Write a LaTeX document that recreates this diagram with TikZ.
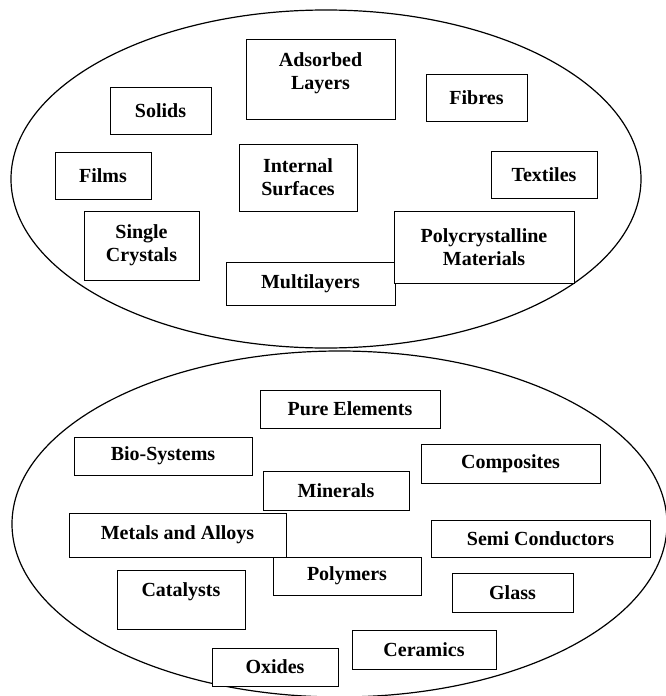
\documentclass[tikz,border=0pt]{standalone}
\usepackage{fontspec}
\setmainfont{Liberation Serif}
\usetikzlibrary{shapes.geometric}

\tikzset{
  blob/.style={draw, ellipse, line width=1.2pt, inner sep=0pt},
  box/.style={draw, line width=0.9pt, inner sep=0pt, align=center,
    font=\bfseries\fontsize{20}{23}\selectfont, fill=white}
}

\begin{document}
\begin{tikzpicture}[x=1pt, y=-1pt]
			%%%%% START %%%%%
			\useasboundingbox (0,0) rectangle (666,696);
			
			% upper group
			\node[blob, minimum width=630, minimum height=338] (upper) at (326, 179) {};
			
			\node[box, minimum width=149, minimum height=80, text depth=16pt] (adsorbed) at (320.5, 79) {Adsorbed\\Layers};
			\node[box, minimum width=101, minimum height=47] (solids) at (160.5, 110.5) {Solids};
			\node[box, minimum width=101, minimum height=47] (fibres) at (476.5, 97.5) {Fibres};
			\node[box, minimum width=96, minimum height=47] (films) at (103, 175.5) {Films};
			\node[box, minimum width=118, minimum height=67] (internal) at (298, 177.5) {Internal\\Surfaces};
			\node[box, minimum width=106, minimum height=47] (textiles) at (544, 174.5) {Textiles};
			\node[box, minimum width=115, minimum height=69] (single) at (141.5, 245.5) {Single\\Crystals};
			\node[box, minimum width=169, minimum height=43] (multi) at (310.5, 283.5) {Multilayers};
			\node[box, minimum width=180, minimum height=72] (poly) at (484, 247) {Polycrystalline\\Materials};
			
			% lower group
			\node[blob, minimum width=655, minimum height=346] (lower) at (339.5, 524) {};
			
			\node[box, minimum width=180, minimum height=38] (pure) at (350, 409) {Pure Elements};
			\node[box, minimum width=178, minimum height=38] (bio) at (163, 456) {Bio-Systems};
			\node[box, minimum width=179, minimum height=39] (composites) at (510.5, 463.5) {Composites};
			\node[box, minimum width=146, minimum height=39] (minerals) at (336, 490.5) {Minerals};
			\node[box, minimum width=217, minimum height=44] (metals) at (177.5, 535) {Metals and Alloys};
			\node[box, minimum width=219, minimum height=37] (semi) at (540.5, 538.5) {Semi Conductors};
			\node[box, minimum width=148, minimum height=38] (polymers) at (347, 576) {Polymers};
			\node[box, minimum width=121, minimum height=39] (glass) at (512.5, 592.5) {Glass};
			\node[box, minimum width=128, minimum height=59, text depth=20pt] (catalysts) at (181, 599.5) {Catalysts};
			\node[box, minimum width=144, minimum height=39] (ceramics) at (424, 649.5) {Ceramics};
			\node[box, minimum width=126, minimum height=38] (oxides) at (275, 667) {Oxides};
			
			%%%%% END %%%%%
\end{tikzpicture}
\end{document}
